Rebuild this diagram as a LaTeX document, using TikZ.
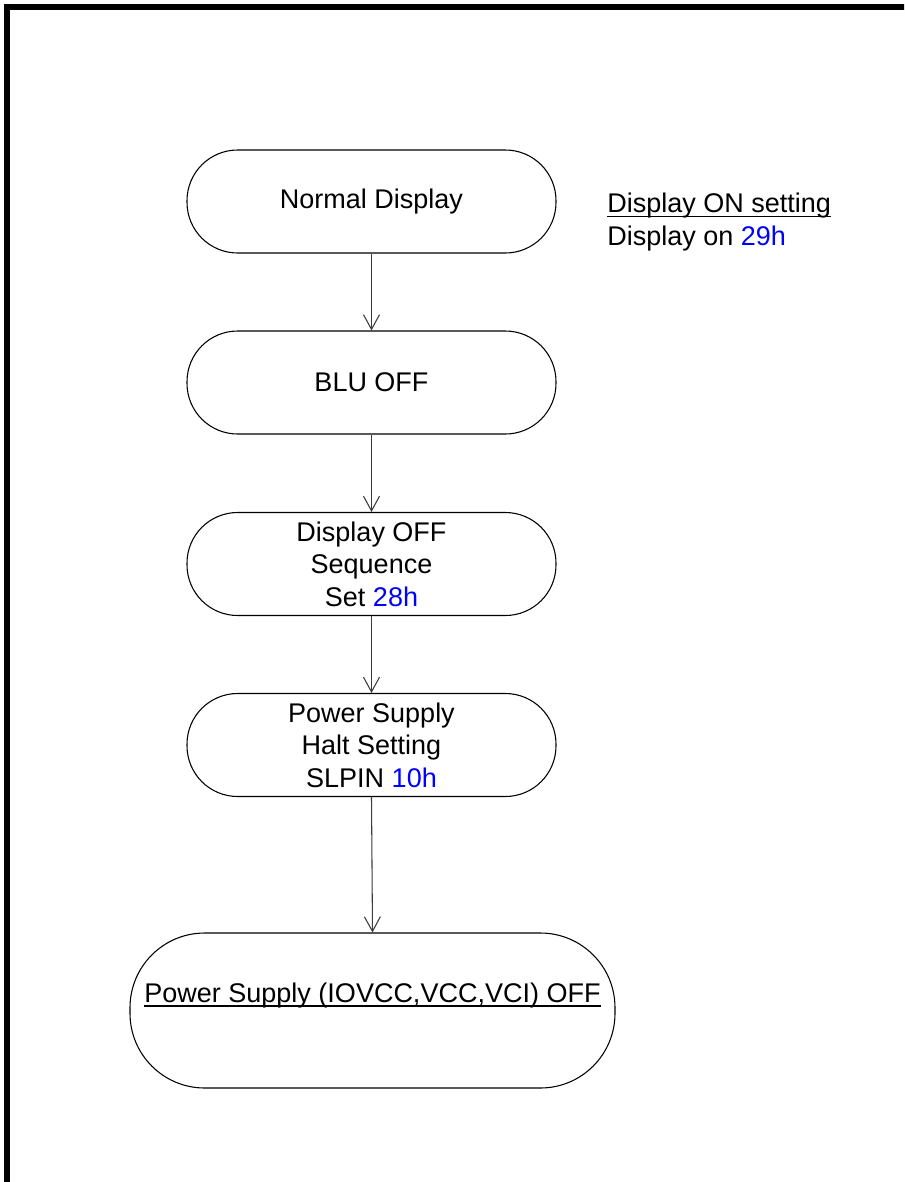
\documentclass[tikz,border=0pt]{standalone}
\usepackage{fontspec}
\setmainfont{Liberation Sans}
\usetikzlibrary{arrows.meta}
\definecolor{hexblue}{RGB}{0,0,255}
\definecolor{linegray}{RGB}{60,60,60}
\newcommand\myul[1]{\setbox0\hbox{#1}\rlap{\rule[-3.6pt]{\wd0}{1.1pt}}\box0}
\tikzset{
  stepbox/.style={draw=black, line width=0.8pt, rounded corners=38pt,
    minimum width=276.75pt, minimum height=77.25pt, inner sep=0pt,
    align=center, font=\fontsize{20.25}{24.4}\selectfont},
  bigbox/.style={stepbox, rounded corners=56pt, minimum width=363.75pt, minimum height=116.25pt},
  flow/.style={draw=linegray, line width=0.8pt, -{Straight Barb[length=11pt,width=12pt,line width=0.8pt]}},
  note/.style={anchor=base west, inner sep=0pt, align=left, font=\fontsize{20.25}{24.4}\selectfont},
  frame/.style={draw=black, line width=3.9pt}
}
\begin{document}
\begin{tikzpicture}[x=0.75pt, y=-0.75pt]
\useasboundingbox (0,0) rectangle (904,1182);
\clip (0,0) rectangle (904,1182);
\draw[frame] (7,1250) -- (7,7) -- (960,7);

\node[stepbox] (n1) at (371.5,201.5) {Normal Display};
\node[stepbox] (n2) at (371.5,382.5) {BLU OFF};
\node[stepbox] (n3) at (371.5,564) {Display OFF\\Sequence\\Set \textcolor{hexblue}{28h}};
\node[stepbox] (n4) at (371.5,745) {Power Supply\\Halt Setting\\SLPIN \textcolor{hexblue}{10h}};
\node[bigbox] (n5) at (372.5,1010.5) {\myul{Power Supply (IOVCC,VCC,VCI) OFF}\\[3pt]\mbox{}};

\node[note] (side) at (607,245) {\myul{Display ON setting}\\Display on \textcolor{hexblue}{29h}};

\draw[flow] (n1.south) -- (n2.north);
\draw[flow] (n2.south) -- (n3.north);
\draw[flow] (n3.south) -- (n4.north);
\draw[flow] (n4.south) -- (n5.north);
\end{tikzpicture}
\end{document}
